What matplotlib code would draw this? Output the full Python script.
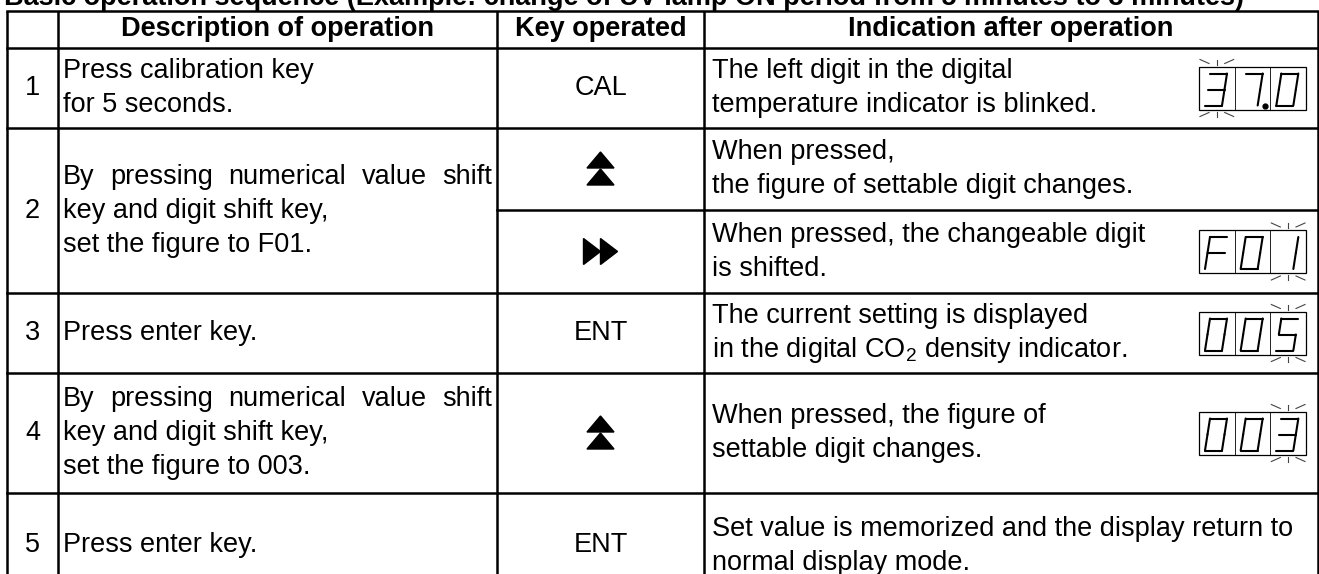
import matplotlib.pyplot as plt
from matplotlib.patches import Polygon, Rectangle

plt.rcParams['font.family'] = ['Liberation Sans', 'DejaVu Sans']
plt.rcParams['mathtext.fontset'] = 'custom'
plt.rcParams['mathtext.rm'] = 'Liberation Sans'
plt.rcParams['mathtext.it'] = 'Liberation Sans:italic'

# ---- table content ----
title = "Basic operation sequence (Example: change of UV lamp ON period from 5 minutes to 3 minutes)"
headers = ["", "Description of operation", "Key operated", "Indication after operation"]

step_labels = ["1", "2", "3", "4", "5"]
step_desc = [
    ["Press calibration key", "for 5 seconds."],
    ["By pressing numerical value shift", "key and digit shift key,", "set the figure to F01."],
    ["Press enter key."],
    ["By pressing numerical value shift", "key and digit shift key,", "set the figure to 003."],
    ["Press enter key."],
]
desc_justify_first = [False, True, False, True, False]

# sub rows (step 2 is split in two for the key / indication columns)
sub_step = [0, 1, 1, 2, 3, 4]
keys = ["CAL", "up", "right", "ENT", "up", "ENT"]
indications = [
    ["The left digit in the digital", "temperature indicator is blinked."],
    ["When pressed,", "the figure of settable digit changes."],
    ["When pressed, the changeable digit", "is shifted."],
    ["The current setting is displayed", "in the digital CO$_2$ density indicator."],
    ["When pressed, the figure of", "settable digit changes."],
    ["Set value is memorized and the display return to", "normal display mode."],
]
displays = ["37.0", None, "F01", "005", "003", None]
blink_digit = [0, None, 2, 2, 2, None]

# ---- layout (pixels) ----
W, H = 1319, 574
col_x = [7, 58, 497, 704, 1318]
table_top = 11
header_bottom = 48
sub_edges = [48, 128, 210, 293, 373, 493, 598]
step_edges = [48, 128, 293, 373, 493, 598]
FS = 19.5
LINE = 34
LW = 1.8

fig = plt.figure(figsize=(W / 100, H / 100), dpi=100)
ax = fig.add_axes([0, 0, 1, 1])
ax.set_xlim(0, W)
ax.set_ylim(H, 0)
ax.axis('off')

# title (top is cut off in the original)
ax.text(4, 5, title, fontsize=FS, fontweight='bold', ha='left', va='baseline')

# grid lines
for x in col_x:
    ax.plot([x, x], [table_top, H + 5], color='k', lw=LW, solid_capstyle='butt')
ax.plot([col_x[0], col_x[-1]], [table_top, table_top], color='k', lw=LW)
for y in step_edges[:-1]:
    ax.plot([col_x[0], col_x[-1]], [y, y], color='k', lw=LW)
for y in sub_edges[:-1]:
    if y not in step_edges:
        ax.plot([col_x[2], col_x[-1]], [y, y], color='k', lw=LW)

# headers
hy = (table_top + header_bottom) / 2
for i, h in enumerate(headers):
    if h:
        ax.text((col_x[i] + col_x[i + 1]) / 2, hy, h, fontsize=FS, fontweight='bold',
                ha='center', va='center')

fig.canvas.draw()
renderer = fig.canvas.get_renderer()


def lines_y(top, bottom, n):
    c = (top + bottom) / 2
    return [c + (k - (n - 1) / 2) * LINE for k in range(n)]


def justify(line, x_left, x_right, y):
    words = line.split()
    objs = [ax.text(x_left, y, w, fontsize=FS, ha='left', va='center') for w in words]
    widths = [o.get_window_extent(renderer).width for o in objs]
    gap = (x_right - x_left - sum(widths)) / (len(words) - 1)
    x = x_left
    for o, wd in zip(objs, widths):
        o.set_x(x)
        x += wd + gap


# step column + description column
for i, lab in enumerate(step_labels):
    top, bot = step_edges[i], step_edges[i + 1]
    cy = (top + bot) / 2
    ax.text((col_x[0] + col_x[1]) / 2, cy, lab, fontsize=FS, ha='center', va='center')
    ys = lines_y(top, bot, len(step_desc[i]))
    for k, (line, y) in enumerate(zip(step_desc[i], ys)):
        if k == 0 and desc_justify_first[i]:
            justify(line, col_x[1] + 5, col_x[2] - 5, y)
        else:
            ax.text(col_x[1] + 5, y, line, fontsize=FS, ha='left', va='center')


def key_symbol(kind, cx, cy):
    if kind == "up":
        w, h = 27, 16
        for y0 in (cy - h - 1, cy):
            ax.add_patch(Polygon([(cx - w / 2, y0 + h), (cx + w / 2, y0 + h), (cx, y0)],
                                 closed=True, color='k'))
    elif kind == "right":
        w, h = 17, 26
        for x0 in (cx - w, cx):
            ax.add_patch(Polygon([(x0, cy - h / 2), (x0, cy + h / 2), (x0 + w, cy)],
                                 closed=True, color='k'))
    else:
        ax.text(cx, cy, kind, fontsize=FS, ha='center', va='center')


SEGS = {
    'a': ((0, 1), (1, 1)), 'b': ((1, 1), (1, 0.5)), 'c': ((1, 0.5), (1, 0)),
    'd': ((0, 0), (1, 0)), 'e': ((0, 0.5), (0, 0)), 'f': ((0, 1), (0, 0.5)),
    'g': ((0, 0.5), (1, 0.5)),
}
DIGITS = {'0': 'abcdef', '1': 'bc', '3': 'abcdg', '5': 'acdfg', '7': 'abc', 'F': 'aefg'}


def seven_seg(value, blink, cy):
    bx0, bx1 = 1199, 1306
    bh = 43
    by0 = cy - bh / 2
    cw = (bx1 - bx0) / 3
    ax.add_patch(Rectangle((bx0, by0), bx1 - bx0, bh, fill=False, ec='k', lw=0.9))
    for k in (1, 2):
        ax.plot([bx0 + k * cw, bx0 + k * cw], [by0, by0 + bh], color='k', lw=0.6)
    chars = []
    for ch in value:
        if ch == '.':
            chars[-1] = chars[-1] + '.'
        else:
            chars.append(ch)
    dw, dh, sl = 17, 32, 5
    for k, ch in enumerate(chars):
        x0 = bx0 + k * cw + 6
        yb = by0 + bh - 4
        for s in DIGITS[ch[0]]:
            (u0, v0), (u1, v1) = SEGS[s]
            ax.plot([x0 + u0 * dw + v0 * sl, x0 + u1 * dw + v1 * sl],
                    [yb - v0 * dh, yb - v1 * dh], color='k', lw=1.5,
                    solid_capstyle='round')
        if ch.endswith('.'):
            ax.plot([bx0 + (k + 1) * cw - 5], [yb], 'o', color='k', ms=3.5)
    if blink is not None:
        xl, xr = bx0 + blink * cw, bx0 + (blink + 1) * cw
        xm = (xl + xr) / 2
        for edge, sgn in ((by0, -1), (by0 + bh, 1)):
            ax.plot([xm, xm], [edge + sgn * 2, edge + sgn * 7], color='#444444', lw=0.8)
            ax.plot([xl + 1, xl + 10], [edge + sgn * 7, edge + sgn * 3], color='#444444', lw=0.8)
            ax.plot([xr - 1, xr - 10], [edge + sgn * 7, edge + sgn * 3], color='#444444', lw=0.8)


# key + indication columns
for j in range(len(keys)):
    top, bot = sub_edges[j], sub_edges[j + 1]
    cy = (top + bot) / 2
    key_symbol(keys[j], (col_x[2] + col_x[3]) / 2, cy)
    ys = lines_y(top, bot, len(indications[j]))
    for line, y in zip(indications[j], ys):
        ax.text(col_x[3] + 8, y, line, fontsize=FS, ha='left', va='center')
    if displays[j]:
        seven_seg(displays[j], blink_digit[j], cy)

fig.savefig('out.png', dpi=100)
